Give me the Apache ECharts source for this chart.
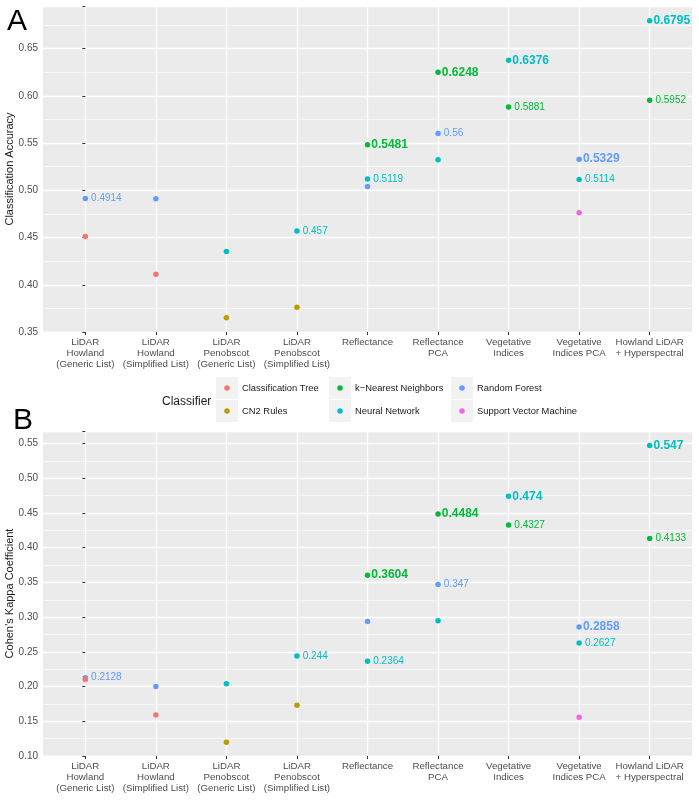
<!DOCTYPE html>
<html>
<head>
<meta charset="utf-8">
<title>Classifier comparison</title>
<script src="https://cdn.jsdelivr.net/npm/echarts@6/dist/echarts.min.js"></script>
</head>
<body style="margin:0;padding:0;background:#fff">
<div id="main" style="width:699px;height:800px"></div>
<script type="text/javascript">
var categories = [
  'LiDAR\nHowland\n(Generic List)',
  'LiDAR\nHowland\n(Simplified List)',
  'LiDAR\nPenobscot\n(Generic List)',
  'LiDAR\nPenobscot\n(Simplified List)',
  'Reflectance',
  'Reflectance\nPCA',
  'Vegetative\nIndices',
  'Vegetative\nIndices PCA',
  'Howland LiDAR\n+ Hyperspectral'
];
var classifiers = ['Classification Tree', 'CN2 Rules', 'k\u2212Nearest Neighbors', 'Neural Network', 'Random Forest', 'Support Vector Machine'];
var colors = ['#F8766D', '#B79F00', '#00BA38', '#00BFC4', '#619CFF', '#F564E3'];

// classification accuracy (panel A), null = not shown
var accTree = [0.4511, 0.411, null, null, null, null, null, null, null];
var accCN2  = [null, null, 0.3651, 0.3761, null, null, null, null, null];
var accKNN  = [null, null, null, null, 0.5481, 0.6248, 0.5881, null, 0.5952];
var accNN   = [null, null, 0.4353, 0.457, 0.5119, 0.5322, 0.6376, 0.5114, 0.6795];
var accRF   = [0.4914, 0.491, null, null, 0.504, 0.56, null, 0.5329, null];
var accSVM  = [null, null, null, null, null, null, null, 0.4761, null];

// cohen's kappa (panel B)
var kapTree = [0.2101, 0.1591, null, null, null, null, null, null, null];
var kapCN2  = [null, null, 0.1197, 0.1731, null, null, null, null, null];
var kapKNN  = [null, null, null, null, 0.3604, 0.4484, 0.4327, null, 0.4133];
var kapNN   = [null, null, 0.2039, 0.244, 0.2364, 0.2947, 0.474, 0.2627, 0.547];
var kapRF   = [0.2128, 0.2, null, null, 0.2937, 0.347, null, 0.2858, null];
var kapSVM  = [null, null, null, null, null, null, null, 0.1558, null];

// value labels: 0 none, 1 plain, 2 bold (best)
var lblNone = [0, 0, 0, 0, 0, 0, 0, 0, 0];
var lblKNN  = [0, 0, 0, 0, 2, 2, 1, 0, 1];
var lblNN   = [0, 0, 0, 1, 1, 0, 2, 1, 2];
var lblRF   = [1, 0, 0, 0, 0, 1, 0, 2, 0];

var font = 'Liberation Sans, Arial, Helvetica, sans-serif';
var catIdx = categories.map(function (c, i) { return i; });

var myChart = echarts.init(document.getElementById('main'));

function buildSeries(valueLists, labelLists, gi) {
  var out = [];
  valueLists.forEach(function (vals, k) {
    var data = [];
    vals.forEach(function (v, i) {
      if (v === null) return;
      var lv = labelLists[k][i];
      data.push({
        value: [i, v],
        label: {
          show: lv > 0,
          fontSize: lv === 2 ? 12 : 10,
          fontWeight: lv === 2 ? 'bold' : 'normal',
          distance: lv === 2 ? 1 : 3
        }
      });
    });
    out.push({
      name: classifiers[k],
      type: 'scatter',
      xAxisIndex: gi,
      yAxisIndex: gi,
      symbolSize: 5.5,
      z: k === 0 ? 3 : 2,
      itemStyle: { color: colors[k], opacity: 1 },
      label: {
        position: 'right',
        color: colors[k],
        fontFamily: font,
        formatter: function (p) { return String(p.value[1]); }
      },
      emphasis: { disabled: true },
      data: data
    });
  });
  return out;
}

function makeX(gi) {
  return {
    type: 'value', gridIndex: gi, min: -0.6, max: 8.6,
    axisLine: { show: false },
    axisTick: { show: true, length: 3, customValues: catIdx, lineStyle: { color: '#333', width: 1 } },
    axisLabel: {
      customValues: catIdx,
      formatter: function (v) { return categories[Math.round(v)]; },
      color: '#4d4d4d', fontSize: 9.7, lineHeight: 10.8, margin: 5, fontFamily: font
    },
    splitLine: { show: true, lineStyle: { color: '#fff', width: 1.3 } }
  };
}

function makeY(gi, min, max, name) {
  return {
    type: 'value', gridIndex: gi, min: min, max: max, interval: 0.05,
    axisLine: { show: false },
    axisTick: { show: true, length: 3, lineStyle: { color: '#333', width: 1 } },
    axisLabel: {
      formatter: function (v) {
        return Math.abs(v * 20 - Math.round(v * 20)) < 1e-6 ? v.toFixed(2) : '';
      },
      color: '#4d4d4d', fontSize: 10, margin: 5, fontFamily: font
    },
    splitLine: { show: true, lineStyle: { color: '#fff', width: 1.3 } },
    minorTick: { show: false, splitNumber: 2 },
    minorSplitLine: { show: true, lineStyle: { color: '#fff', width: 0.6 } },
    name: name, nameLocation: 'middle', nameGap: 28, nameMoveOverlap: false,
    nameTextStyle: { color: '#1a1a1a', fontSize: 11, fontFamily: font }
  };
}

var legendGraphics = [{
  type: 'text', x: 162, y: 402,
  style: { text: 'Classifier', fontSize: 12, fontFamily: font, fill: '#1a1a1a', verticalAlign: 'middle' }
}];
var colX = [216, 329, 451];
var rowY = [377, 400];
classifiers.forEach(function (name, k) {
  var x = colX[Math.floor(k / 2)], y = rowY[k % 2];
  legendGraphics.push({ type: 'rect', shape: { x: x, y: y, width: 22, height: 22 }, style: { fill: '#F2F2F2' } });
  legendGraphics.push({ type: 'circle', shape: { cx: x + 11, cy: y + 11, r: 2.75 }, style: { fill: colors[k] } });
  legendGraphics.push({
    type: 'text', x: x + 26, y: y + 11,
    style: { text: name, fontSize: 9.4, fontFamily: font, fill: '#1a1a1a', verticalAlign: 'middle' }
  });
});
legendGraphics.push({ type: 'text', x: 7, y: 22, style: { text: 'A', fontSize: 30, fontFamily: font, fill: '#000', verticalAlign: 'middle' } });
legendGraphics.push({ type: 'text', x: 13, y: 421, style: { text: 'B', fontSize: 30, fontFamily: font, fill: '#000', verticalAlign: 'middle' } });

var option = {
  animation: false,
  backgroundColor: '#fff',
  grid: [
    { left: 43, right: 7, top: 6, height: 326, show: true, backgroundColor: '#EBEBEB', borderWidth: 0, outerBoundsMode: 'none', containLabel: false },
    { left: 43, right: 7, top: 431, height: 325, show: true, backgroundColor: '#EBEBEB', borderWidth: 0, outerBoundsMode: 'none', containLabel: false }
  ],
  xAxis: [makeX(0), makeX(1)],
  yAxis: [
    makeY(0, 0.35, 0.695, 'Classification Accuracy'),
    makeY(1, 0.10, 0.568, 'Cohen\u2019s Kappa Coefficient')
  ],
  graphic: legendGraphics,
  series: buildSeries([accTree, accCN2, accKNN, accNN, accRF, accSVM], [lblNone, lblNone, lblKNN, lblNN, lblRF, lblNone], 0)
    .concat(buildSeries([kapTree, kapCN2, kapKNN, kapNN, kapRF, kapSVM], [lblNone, lblNone, lblKNN, lblNN, lblRF, lblNone], 1))
};
myChart.setOption(option);
</script>
</body>
</html>
